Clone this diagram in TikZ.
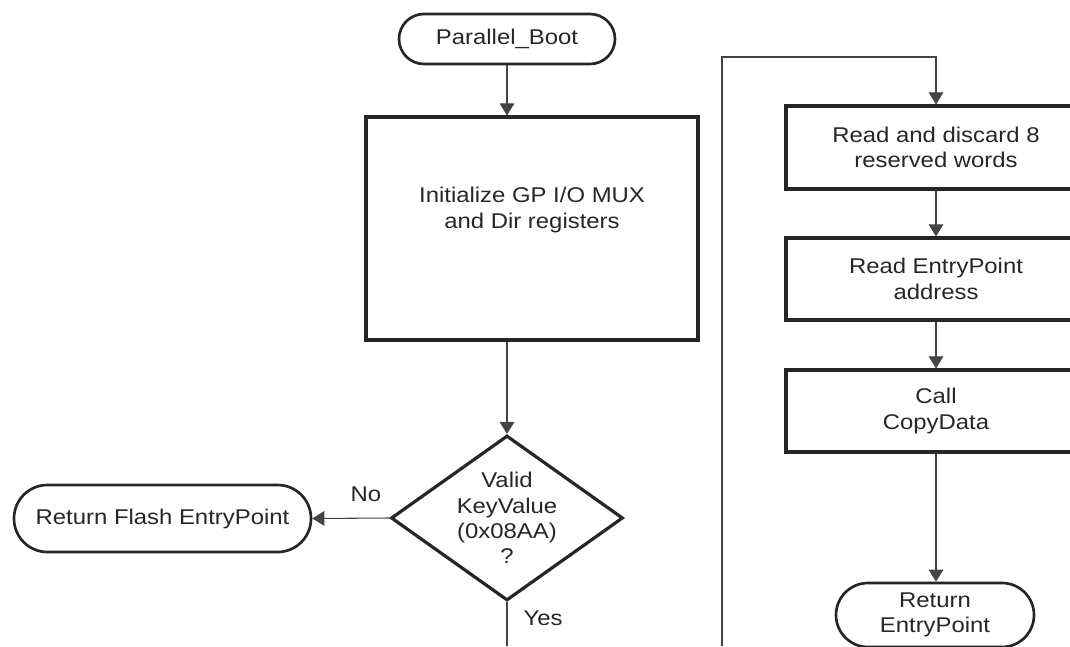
\documentclass[tikz,border=0pt]{standalone}
\usepackage{fontspec}
\setmainfont{Liberation Sans}[FakeStretch=1.12]
\usetikzlibrary{shapes.geometric,arrows.meta}
\definecolor{ink}{HTML}{262626}
\definecolor{wire}{HTML}{444444}
\tikzset{
  txt/.style={font=\fontsize{16pt}{19pt}\selectfont, text=ink, align=center},
  term/.style={txt, draw=ink, line width=2pt, rectangle, inner sep=0pt},
  proc/.style={txt, draw=ink, line width=2.4pt, rectangle, inner sep=0pt},
  dia/.style={draw=ink, line width=2.4pt, diamond, inner sep=0pt, minimum width=174pt, minimum height=123.75pt},
  wireline/.style={draw=wire, line width=0.8pt},
  arr/.style={wireline, -{Triangle[width=11pt,length=9pt]}},
  lbl/.style={txt}
}
\begin{document}
\begin{tikzpicture}[x=0.75pt,y=-0.75pt]
\useasboundingbox (0,0) rectangle (1070,646);
\clip (0,0) rectangle (1070,646);

% left column
\node[term, minimum width=162pt, minimum height=37.5pt, rounded corners=18.75pt] (pb) at (507,39) {Parallel\_Boot};
\node[proc, minimum width=249pt, minimum height=167.25pt] (init) at (532,228.5) {};
\node[txt] (initt) at (532,210) {Initialize GP I/O MUX\\and Dir registers};
\node[dia] (dec) at (507,518) {};
\node[txt] (dect) at (507,518) {Valid\\KeyValue\\(0x08AA)\\?};
\node[term, minimum width=222.75pt, minimum height=50.25pt, rounded corners=25pt] (rf) at (162.5,518.5) {Return Flash EntryPoint};

\coordinate (yend) at (507,646);
\coordinate (lstart) at (722,646);
\coordinate (ltop) at (722,57);

% right column
\node[proc, minimum width=225pt, minimum height=62.25pt] (rd) at (936,147.5) {Read and discard 8\\reserved words};
\node[proc, minimum width=225pt, minimum height=61.5pt] (re) at (936,279) {Read EntryPoint\\address};
\node[proc, minimum width=225pt, minimum height=61.5pt] (cc) at (936,411) {Call\\CopyData};
\node[term, minimum width=148.5pt, minimum height=48pt, rounded corners=24pt] (ret) at (935,615) {Return\\EntryPoint};

% connectors
\draw[arr] (pb.south) -- (pb.south |- init.north);
\draw[arr] (dec.north |- init.south) -- (dec.north);
\draw[arr] (dec.west) -- (rf.east);
\draw[wireline] (dec.south) -- (yend);
\draw[arr] (lstart) -- (ltop) -- (ltop -| rd.north) -- (rd.north);
\draw[arr] (rd.south) -- (re.north);
\draw[arr] (re.south) -- (cc.north);
\draw[arr] (cc.south) -- (cc.south |- ret.north);

% labels
\node[lbl] (nolbl) at (366,494) {No};
\node[lbl] (yeslbl) at (543,618) {Yes};
\end{tikzpicture}
\end{document}
